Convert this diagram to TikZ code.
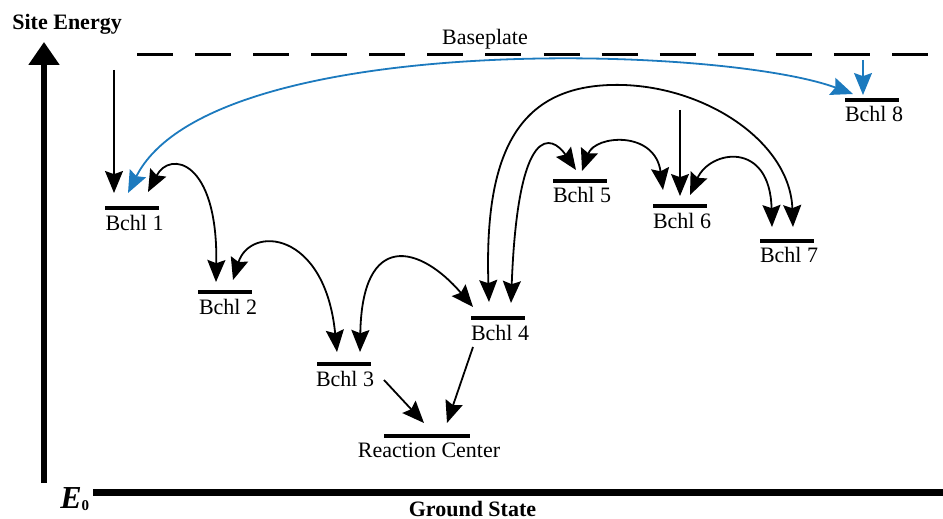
\documentclass[tikz,border=0pt]{standalone}
\usepackage{fontspec}
\setmainfont{Liberation Serif}
\usetikzlibrary{arrows.meta,calc}
\definecolor{linkblue}{RGB}{28,122,190}
\begin{document}
\begin{tikzpicture}[x=0.5pt,y=-0.5pt,
  level/.style={fill=black,inner sep=0pt,minimum height=2.2pt,minimum width=27pt},
  lbl/.style={font=\fontsize{11pt}{13pt}\selectfont,inner sep=0pt,anchor=base west},
  head/.tip={Stealth[length=11pt,width=9pt,inset=1.6pt]},
  hop/.style={line width=0.9pt,head-head},
  feed/.style={line width=0.9pt,-head},
  drop/.style={line width=0.65pt,-head},
]
\useasboundingbox (0,0) rectangle (943,519);

% energy axis and ground state
\coordinate (axisbot) at (44,483);
\coordinate (axistop) at (44,42);
\draw[line width=2.6pt,-{Triangle[length=11.5pt,width=15pt]}] (axisbot) -- (axistop);
\node[font=\fontsize{11pt}{13pt}\selectfont\bfseries,inner sep=0pt,anchor=base west] (ylab) at (12,30) {Site Energy};
\coordinate (gsL) at (93,492);
\coordinate (gsR) at (943,492);
\draw[line width=3.5pt] (gsL) -- (gsR);
\node[inner sep=0pt,anchor=base west] (e0) at (60,508)
  {\fontsize{16pt}{18pt}\selectfont\bfseries\itshape E\raisebox{-1pt}{\fontsize{7.5pt}{8pt}\selectfont\upshape 0}};
\node[font=\fontsize{11pt}{13pt}\selectfont\bfseries,inner sep=0pt,anchor=base] (gslab) at (472.5,516) {Ground State};

% baseplate
\coordinate (bpL) at (137,55);
\coordinate (bpR) at (928,55);
\draw[line width=1.5pt,dash pattern=on 18pt off 11.04pt] (bpL) -- (bpR);
\node[font=\fontsize{11pt}{13pt}\selectfont,inner sep=0pt,anchor=base] (bplab) at (485,45) {Baseplate};

% site energy levels
\node[level] (b1) at (131.5,208) {};
\node[level] (b2) at (225,292) {};
\node[level] (b3) at (344,364) {};
\node[level] (b4) at (498,318) {};
\node[level] (b5) at (580,181) {};
\node[level] (b6) at (680,206) {};
\node[level] (b7) at (787,241) {};
\node[level] (b8) at (872,100) {};
\node[level,minimum width=43pt] (rc) at (427,436) {};

\node[lbl] (l1) at ($(b1.west)+(1,22.5)$) {Bchl 1};
\node[lbl] (l2) at ($(b2.west)+(1,22.5)$) {Bchl 2};
\node[lbl] (l3) at ($(b3.west)+(-1,22)$) {Bchl 3};
\node[lbl] (l4) at ($(b4.west)+(0,22)$) {Bchl 4};
\node[lbl] (l5) at ($(b5.west)+(0,22)$) {Bchl 5};
\node[lbl] (l6) at ($(b6.west)+(0,22)$) {Bchl 6};
\node[lbl] (l7) at ($(b7.west)+(0,22)$) {Bchl 7};
\node[lbl] (l8) at ($(b8.west)+(0,22)$) {Bchl 8};
\node[lbl,anchor=base] (lrc) at ($(rc.center)+(2,21)$) {Reaction Center};

% excitation from the baseplate
\coordinate (in1) at (114,70);
\coordinate (in6) at (680,110);
\coordinate (in8) at (863,60);
\draw[drop] (in1) -- ($(b1.center)+(-17.5,-15)$);
\draw[drop] (in6) -- ($(b6.center)+(0,-10)$);
\draw[drop,linkblue] (in8) -- ($(b8.center)+(-9,-5)$);

% transfer between sites
\draw[hop,linkblue] ($(b1.center)+(-3.5,-15)$) .. controls (210,30) and (720,45) .. ($(b8.center)+(-19,-6)$);
\draw[hop] ($(b1.center)+(16.5,-16)$) .. controls (170,150) and (218,160) .. ($(b2.center)+(-9,-10)$);
\draw[hop] ($(b2.center)+(8,-12)$) .. controls (250,225) and (325,230) .. ($(b3.center)+(-7,-12)$);
\draw[hop] ($(b3.center)+(16,-12)$) .. controls (362,230) and (420,245) .. ($(b4.center)+(-25,-11)$);
\draw[hop] ($(b4.center)+(13,-15)$) .. controls (518,120) and (552,135) .. ($(b5.center)+(-4,-11)$);
\draw[hop] ($(b4.center)+(-9,-16)$) .. controls (484,150) and (520,88) .. (610,85)
  .. controls (700,82) and (790,140) .. ($(b7.center)+(6,-14)$);
\draw[hop] ($(b5.center)+(2,-10)$) .. controls (595,135) and (655,130) .. ($(b6.center)+(-17,-16)$);
\draw[hop] ($(b6.center)+(10,-11)$) .. controls (710,150) and (770,140) .. ($(b7.center)+(-15,-14)$);

% trapping at the reaction center
\draw[feed] ($(b3.center)+(40,16)$) -- ($(rc.center)+(-3,-13)$);
\draw[feed] ($(b4.center)+(-25,29)$) -- ($(rc.center)+(20,-13)$);
\end{tikzpicture}
\end{document}
